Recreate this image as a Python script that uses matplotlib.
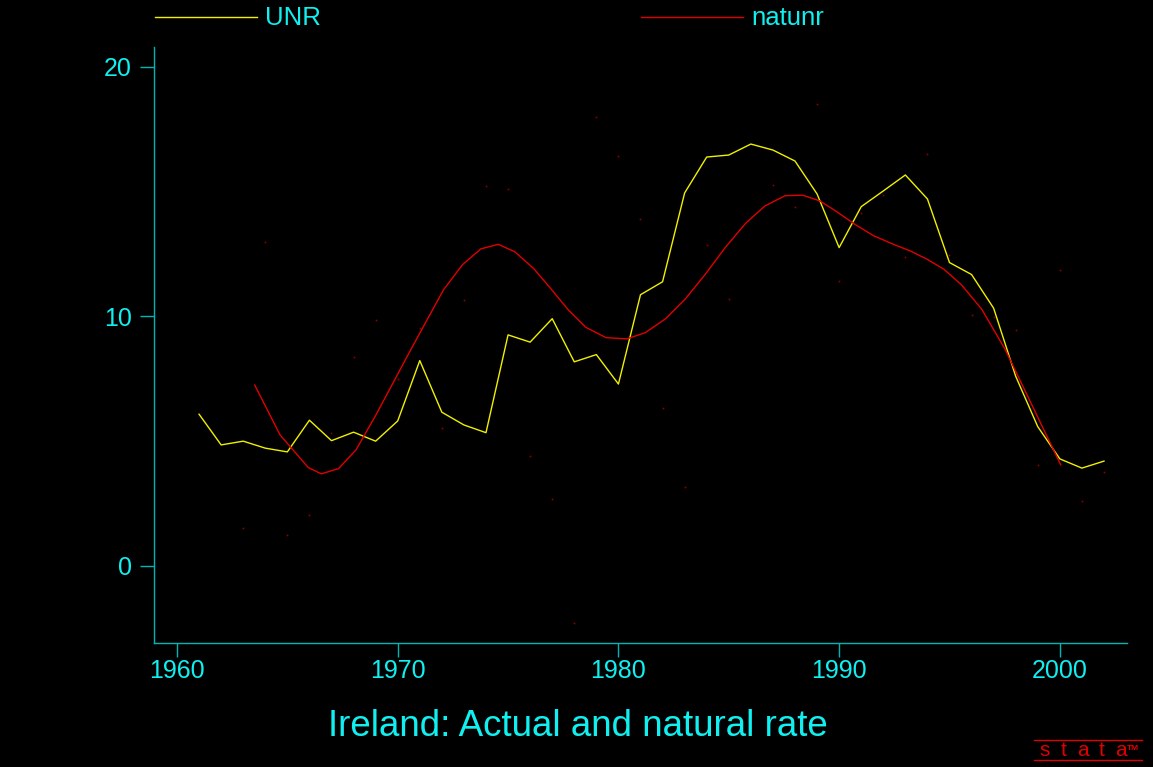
import matplotlib
matplotlib.use("Agg")
import matplotlib.pyplot as plt
from matplotlib.lines import Line2D

# actual unemployment rate, Ireland, 1961-2002
years = list(range(1961, 2003))
unr = [6.08, 4.85, 5.00, 4.72, 4.57, 5.84, 5.02, 5.36, 5.00, 5.81,
       8.23, 6.16, 5.65, 5.34, 9.26, 8.97, 9.91, 8.18, 8.47, 7.29,
       10.87, 11.39, 14.95, 16.39, 16.47, 16.91, 16.67, 16.23, 14.91, 12.76,
       14.40, 15.03, 15.67, 14.71, 12.16, 11.68, 10.33, 7.60, 5.58, 4.29,
       3.92, 4.20]

# smoothed natural rate
nat_years = [1963.52, 1964.67, 1965.95, 1966.54, 1967.32, 1968.11, 1968.97,
             1970.60, 1972.07, 1972.94, 1973.77, 1974.56, 1975.31, 1976.15,
             1976.95, 1977.73, 1978.53, 1979.44, 1980.38, 1981.22, 1982.14,
             1983.02, 1983.91, 1984.84, 1985.77, 1986.64, 1987.55, 1988.35,
             1989.13, 1989.89, 1990.70, 1991.55, 1992.46, 1993.21, 1993.97,
             1994.75, 1995.55, 1996.46, 1997.52, 2000.04]
natunr = [7.25, 5.25, 3.94, 3.69, 3.90, 4.65, 5.98,
          8.68, 11.06, 12.08, 12.71, 12.89, 12.59, 11.93,
          11.10, 10.26, 9.56, 9.15, 9.10, 9.35, 9.91,
          10.69, 11.66, 12.76, 13.74, 14.43, 14.84, 14.86,
          14.63, 14.20, 13.70, 13.24, 12.89, 12.63, 12.30,
          11.89, 11.26, 10.29, 8.68, 4.05]

# faint point markers scattered in the plot
dot_years = [1963, 1964, 1965, 1966, 1967, 1968, 1969, 1970, 1971, 1972,
             1973, 1974, 1975, 1976, 1977, 1978, 1979, 1980, 1981, 1982,
             1983, 1984, 1985, 1987, 1988, 1989, 1990, 1991, 1992, 1993,
             1994, 1995, 1996, 1997, 1998, 1999, 2000, 2001, 2002]
dot_vals = [1.50, 13.0, 1.23, 2.03, 5.33, 8.36, 9.86, 7.5, 9.55, 5.52,
            10.65, 15.24, 15.10, 4.41, 2.67, -2.28, 18.01, 16.44, 13.90, 6.33,
            3.17, 12.88, 10.70, 15.28, 14.40, 18.50, 11.42, 14.14, 14.86, 12.40,
            16.50, 12.45, 10.05, 9.97, 9.45, 4.04, 11.85, 2.59, 3.76]

xticks = [1960, 1970, 1980, 1990, 2000]
yticks = [0, 10, 20]

axis_col = '#00b4b4'
text_col = '#10f0f0'
yellow = '#f0f000'
red = '#e00000'

plt.rcParams['font.family'] = ['Liberation Sans', 'DejaVu Sans']

fig = plt.figure(figsize=(11.53, 7.67), dpi=100, facecolor='black')
ax = fig.add_axes([0.1336, 0.1617, 0.8438, 0.777])
ax.set_facecolor('black')

ax.plot(dot_years, dot_vals, linestyle='none', marker='s', markersize=1.2,
        color='#900000', markeredgewidth=0)
ax.plot(years, unr, color=yellow, lw=1.0)
ax.plot(nat_years, natunr, color=red, lw=1.0)

ax.set_xlim(1958.96, 2003.04)
ax.set_ylim(-3.09, 20.8)
ax.set_xticks(xticks)
ax.set_yticks(yticks)

for side in ['top', 'right']:
    ax.spines[side].set_visible(False)
for side in ['left', 'bottom']:
    ax.spines[side].set_color(axis_col)
    ax.spines[side].set_linewidth(1.0)
ax.tick_params(colors=axis_col, labelcolor=text_col, labelsize=18,
               length=10, width=1.0, direction='out')
ax.tick_params(axis='x', pad=1.5)
ax.tick_params(axis='y', pad=6)

# legend along the top
fig.add_artist(Line2D([155 / 1153, 257 / 1153], [1 - 17 / 767] * 2,
                      color=yellow, lw=1.0))
fig.text(265 / 1153, 1 - 18 / 767, 'UNR', color=text_col, fontsize=18.5,
         va='center', ha='left')
fig.add_artist(Line2D([641 / 1153, 743 / 1153], [1 - 17 / 767] * 2,
                      color=red, lw=1.0))
fig.text(751 / 1153, 1 - 18 / 767, 'natunr', color=text_col, fontsize=18.5,
         va='center', ha='left')

fig.text(578 / 1153, 1 - 727 / 767, 'Ireland: Actual and natural rate',
         color=text_col, fontsize=26.5, ha='center', va='center')

# stata logo
for yy in [740, 760]:
    fig.add_artist(Line2D([1034 / 1153, 1142 / 1153], [1 - yy / 767] * 2,
                          color=red, lw=1.0))
for i, ch in enumerate('stata'):
    fig.text((1045 + i * 19) / 1153, 1 - 751 / 767, ch, color=red,
             fontsize=15, ha='center', va='center')
fig.text(1133 / 1153, 1 - 748 / 767, 'TM', color=red, fontsize=6,
         ha='center', va='center', fontweight='bold')

plt.savefig('out.png', dpi=100, facecolor='black')
